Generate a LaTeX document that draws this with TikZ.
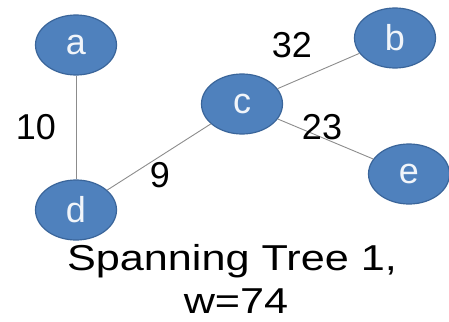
\documentclass[tikz,border=0pt]{standalone}
\usepackage{fontspec}
\setmainfont{Liberation Sans}
\usepackage{tikz}
\usetikzlibrary{shapes.geometric}

\definecolor{nodeblue}{HTML}{4F81BD}
\definecolor{nodeedge}{HTML}{3A659A}
\definecolor{edgegray}{HTML}{8C8C8C}

\begin{document}
\begin{tikzpicture}[x=1pt, y=-1pt,
	vertex/.style={ellipse, draw=nodeedge, line width=1.2pt, fill=nodeblue,
		minimum width=81pt, minimum height=60pt, inner sep=0pt,
		text=white!92!nodeblue, font=\fontsize{36}{40}\selectfont},
	weight/.style={inner sep=0pt, font=\fontsize{36}{40}\selectfont},
	label text/.style={inner sep=0pt, anchor=base, xscale=1.2,
		font=\fontsize{36}{40}\selectfont}]
	\useasboundingbox (0,0) rectangle (449,321);

	% vertices of the tree
	\node[vertex] (a) at (76,45) {a};
	\node[vertex] (b) at (395,38) {b};
	\node[vertex] (c) at (242,104) {c};
	\node[vertex] (d) at (76,210) {d};
	\node[vertex] (e) at (409,174) {e};

	% tree edges
	\foreach \u/\v in {a/d, d/c, c/b, c/e}
		\draw[edgegray, line width=0.9pt] (\u) -- (\v);

	% edge weights
	\node[weight] (w10) at (36,127) {10};
	\node[weight] (w32) at (292,45) {32};
	\node[weight] (w23) at (322,127) {23};
	\node[weight] (w9) at (160,175) {9};

	\node[label text] (title) at (232,270) {Spanning Tree 1,};
	\node[label text] (total) at (236,313) {w=74};
\end{tikzpicture}
\end{document}
